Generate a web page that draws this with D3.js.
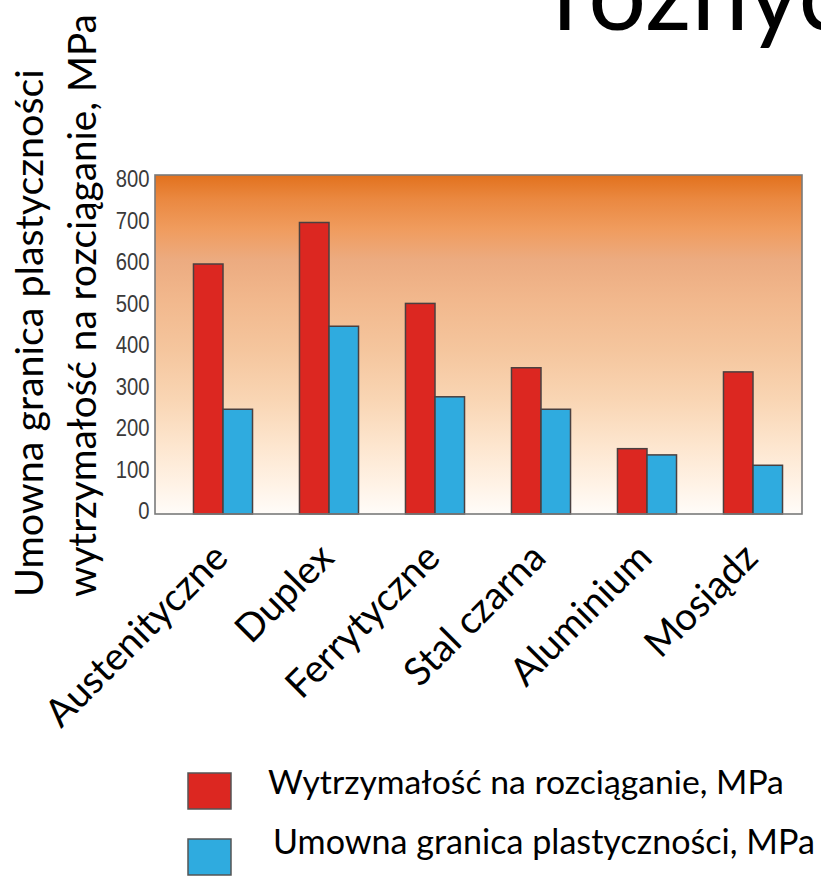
<!DOCTYPE html>
<html>
<head>
<meta charset="utf-8">
<script src="https://cdn.jsdelivr.net/npm/d3@7"></script>
<style>
  body { margin: 0; background: #fff; overflow: hidden; }
  svg { display: block; }
</style>
</head>
<body>
<div id="chart"></div>
<script>
// data
var categories = ["Austenityczne", "Duplex", "Ferrytyczne", "Stal czarna", "Aluminium", "Mosiądz"];
var tensile = [600, 700, 505, 350, 155, 340];   // Wytrzymałość na rozciąganie, MPa
var yieldPt = [250, 450, 280, 250, 140, 115];   // Umowna granica plastyczności, MPa
var seriesNames = ["Wytrzymałość na rozciąganie, MPa", "Umowna granica plastyczności, MPa"];
var yTicks = [0, 100, 200, 300, 400, 500, 600, 700, 800];
var yTitleLines = ["Umowna granica plastyczności", "wytrzymałość na rozciąganie, MPa"];
var titleText = "różnyc";

var colors = ["#dc2721", "#2fabdf"];

var width = 821, height = 878;
var svg = d3.select("#chart").append("svg")
    .attr("width", width)
    .attr("height", height);

// plot frame
var frame = { left: 155, right: 802, top: 175, bottom: 514 };

//gradient background, orange at top fading to white
var defs = svg.append("defs");
var grad = defs.append("linearGradient")
    .attr("id", "bg")
    .attr("x1", 0).attr("y1", 0).attr("x2", 0).attr("y2", 1);
[[0, "#e2711d"], [0.07, "#ea8840"], [0.16, "#f09c5e"], [0.25, "#ecab80"],
 [0.38, "#f2b98e"], [0.52, "#f5c69e"], [0.66, "#f9d5b3"], [0.8, "#fde6cf"],
 [0.91, "#fff2e5"], [1, "#fffcf9"]].forEach(function(s) {
    grad.append("stop").attr("offset", s[0]).attr("stop-color", s[1]);
});

svg.append("rect")
    .attr("x", frame.left)
    .attr("y", frame.top)
    .attr("width", frame.right - frame.left)
    .attr("height", frame.bottom - frame.top)
    .attr("fill", "url(#bg)");

// scales
var x0 = d3.scaleBand()
    .domain(categories)
    .range([170, 806])
    .paddingInner(0.443)
    .paddingOuter(0.2215);

var x1 = d3.scaleBand()
    .domain([0, 1])
    .range([0, x0.bandwidth()]);

var y = d3.scaleLinear()
    .domain([0, 800])
    .range([513, 181]);

// bars
var rows = categories.map(function(c, i) {
    return { cat: c, values: [tensile[i], yieldPt[i]] };
});

var groups = svg.append("g").selectAll("g")
    .data(rows)
    .enter().append("g")
    .attr("transform", d => `translate(${x0(d.cat)},0)`);

groups.selectAll("rect")
    .data(d => d.values.map((v, k) => ({ k: k, v: v })))
    .enter().append("rect")
    .attr("x", d => x1(d.k))
    .attr("y", d => y(d.v))
    .attr("width", x1.bandwidth())
    .attr("height", d => frame.bottom - y(d.v))
    .attr("fill", d => colors[d.k])
    .attr("stroke", "#4a4040")
    .attr("stroke-width", 1.5);

// frame border on top
svg.append("rect")
    .attr("x", frame.left)
    .attr("y", frame.top)
    .attr("width", frame.right - frame.left)
    .attr("height", frame.bottom - frame.top)
    .attr("fill", "none")
    .attr("stroke", "#7a7a7a")
    .attr("stroke-width", 1.6);

// y axis tick labels
var yAxis = svg.append("g")
    .attr("transform", `translate(${frame.left - 2},0)`)
    .call(d3.axisLeft(y).tickValues(yTicks).tickSize(0).tickPadding(4));
yAxis.select(".domain").remove();
yAxis.selectAll("text")
    .attr("font-family", "'Liberation Sans', Arial, sans-serif")
    .attr("font-size", 23)
    .attr("fill", "#3a3a3a")
    .attr("dy", "0.3em")
    .attr("transform", "translate(0,-1) scale(0.88,1)");

// helper: fit font size so that text spans a given length
function fitText(sel, target, base) {
    sel.attr("font-size", base);
    var len = sel.node().getComputedTextLength();
    var size = base * target / len;
    sel.attr("font-size", size);
    return size;
}

var calibri = "Lato, Carlito, Calibri, sans-serif";

// x axis category labels, rotated
var xAxis = svg.append("g")
    .attr("transform", `translate(0,${frame.bottom})`)
    .call(d3.axisBottom(x0).tickSize(0));
xAxis.select(".domain").remove();

// y axis title: two rotated lines
var yTitleX = [43, 96];
var yTitleLen = [528, 583];
yTitleLines.forEach(function(t, i) {
    var txt = svg.append("text")
        .attr("transform", `translate(${yTitleX[i]},597) rotate(-90)`)
        .attr("font-family", calibri)
        .attr("fill", "#000")
        .text(t);
    fitText(txt, yTitleLen[i], 40);
});

// legend
var legend = svg.append("g");
var legY = [773, 839];
var legLen = [516, 542];
var legText = [];
seriesNames.forEach(function(n, i) {
    legend.append("rect")
        .attr("x", 188)
        .attr("y", legY[i])
        .attr("width", 43)
        .attr("height", 36)
        .attr("fill", colors[i])
        .attr("stroke", "#555")
        .attr("stroke-width", 1.5);
    var t = legend.append("text")
        .attr("x", i == 0 ? 268 : 273)
        .attr("y", legY[i] + (i == 0 ? 21 : 15))
        .attr("font-family", calibri)
        .attr("fill", "#000")
        .text(n);
    legText.push(fitText(t, legLen[i], 36));
});

var catSize = legText[0] * 1.14;
xAxis.selectAll("text")
    .attr("font-family", calibri)
    .attr("font-size", catSize)
    .attr("fill", "#000")
    .attr("text-anchor", "end")
    .attr("x", 0).attr("y", 0).attr("dy", 0)
    .attr("transform", "translate(7,46) rotate(-45)");

// big title, mostly cut off at the top edge
var title = svg.append("text")
    .attr("x", 553)
    .attr("y", 30)
    .attr("font-family", calibri)
    .attr("fill", "#000")
    .text("różny");
fitText(title, 247, 100);
title.text(titleText);
</script>
</body>
</html>
